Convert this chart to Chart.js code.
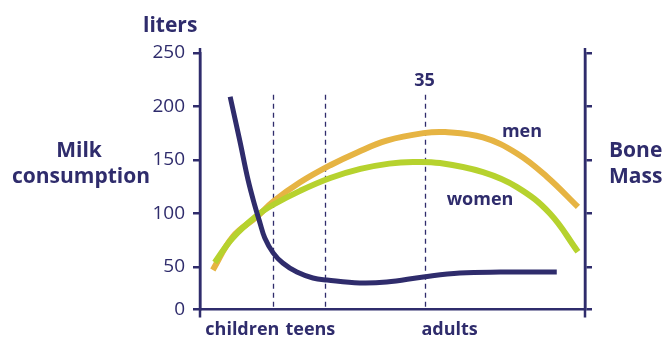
<!DOCTYPE html>
<html>
<head>
<meta charset="utf-8">
<script src="https://cdn.jsdelivr.net/npm/chart.js@4.4.1/dist/chart.umd.min.js"></script>
<style>
  html, body { margin: 0; padding: 0; background: #fff; }
  canvas { display: block; }
</style>
</head>
<body>
<canvas id="lifeChart" width="662" height="338"></canvas>
<script>
// ── Data ───────────────────────────────────────────────────────────────────────

const stages     = ['children', 'teens', 'adults'];
const stageAges  = [6.6, 17.2, 38.9];
const dividers   = [11.4, 19.5, 35];
const yTickVals  = [10, 50, 100, 150, 200, 250];   // 10 sits on the x axis, shown as 0
const yTickText  = ['0', '50', '100', '150', '200', '250'];

const milkAges   = [4.7, 6.2, 7.5, 8.6, 9.35, 10.1, 11.4, 12.9, 15.1, 17.6, 19.8, 24.9, 29.1, 34.8, 40.5, 46.8, 55.6];
const milkLiters = [209, 168, 131, 106, 91, 77, 63, 53.5, 45, 39.5, 37.6, 34.8, 35.7, 40.4, 44.1, 45, 45];

const menAges    = [2.0, 5.1, 8.9, 11.4, 15.6, 20.3, 24.5, 29.1, 34.8, 38.2, 44.1, 49.4, 54.1, 58.9];
const menMass    = [47, 78, 97, 111, 129, 145, 157, 168, 175, 176, 171, 156, 134, 106];

const womenAges  = [2.3, 5.1, 8.9, 11.4, 15.6, 20.3, 25, 29.5, 33.2, 37.4, 44.1, 49.4, 54.5, 58.9];
const womenMass  = [54, 77, 98, 108, 121, 133, 141.5, 146.5, 148, 147, 138.5, 124.5, 100, 64];

const NAVY   = '#2f2c6c';
const ORANGE = '#e6b443';
const GREEN  = '#b6d22e';
const FONT   = '"Open Sans", "DejaVu Sans", sans-serif';

const pts = (xs, ys) => xs.map((x, i) => ({ x, y: ys[i] }));

// ── Overlay: dashed stage lines, titles, series names ─────────────────────────

const overlay = {
  id: 'overlay',
  beforeDatasetsDraw(chart) {
    const { ctx, chartArea, scales } = chart;
    ctx.save();
    ctx.strokeStyle = NAVY;
    ctx.lineWidth = 1.3;
    ctx.setLineDash([5, 4]);
    dividers.forEach(a => {
      const x = Math.round(scales.x.getPixelForValue(a)) + 0.5;
      ctx.beginPath();
      ctx.moveTo(x, scales.y.getPixelForValue(211));
      ctx.lineTo(x, chartArea.bottom);
      ctx.stroke();
    });
    ctx.restore();
  },
  afterDraw(chart) {
    const { ctx, chartArea, scales } = chart;
    ctx.save();
    // axis line overhangs
    ctx.strokeStyle = NAVY;
    ctx.lineWidth = 2.5;
    [chartArea.left, chartArea.right].forEach(x => {
      ctx.beginPath();
      ctx.moveTo(x, chartArea.top - 5);
      ctx.lineTo(x, chartArea.bottom + 8);
      ctx.stroke();
    });

    ctx.fillStyle = NAVY;
    ctx.font = `bold 21px ${FONT}`;
    ctx.textBaseline = 'alphabetic';
    ctx.textAlign = 'left';
    ctx.fillText('liters', 143, 32);

    ctx.textAlign = 'center';
    ctx.fillText('Milk', 79, 157);
    ctx.fillText('consumption', 81, 183);

    ctx.textAlign = 'left';
    ctx.fillText('Bone', 609, 157);
    ctx.fillText('Mass', 609, 183);

    ctx.font = `bold 18px ${FONT}`;
    ctx.textAlign = 'center';
    ctx.fillText('35', scales.x.getPixelForValue(35), 86);
    ctx.fillText('men', 522, 137);
    ctx.fillText('women', 480, 205);
    ctx.restore();
  }
};

// ── Chart ──────────────────────────────────────────────────────────────────────

new Chart(document.getElementById('lifeChart').getContext('2d'), {
  type: 'line',
  data: {
    datasets: [
      { label: 'Milk consumption', data: pts(milkAges, milkLiters), yAxisID: 'y',
        borderColor: NAVY, borderWidth: 5 },
      { label: 'women', data: pts(womenAges, womenMass), yAxisID: 'y2',
        borderColor: GREEN, borderWidth: 6 },
      { label: 'men', data: pts(menAges, menMass), yAxisID: 'y2',
        borderColor: ORANGE, borderWidth: 6 }
    ]
  },
  options: {
    responsive: false,
    animation: false,
    layout: { padding: { top: 53, left: 0, right: 0, bottom: 0 } },
    elements: {
      point: { radius: 0 },
      line: { tension: 0.4, borderCapStyle: 'butt', borderJoinStyle: 'round', fill: false }
    },
    plugins: { legend: { display: false }, tooltip: { enabled: false } },
    scales: {
      x: {
        type: 'linear', min: 0, max: 60,
        afterFit: s => { s.height = 28.5; },
        afterBuildTicks: s => { s.ticks = stageAges.map(v => ({ value: v })); },
        grid: { display: false },
        border: { color: NAVY, width: 2.5 },
        ticks: {
          autoSkip: false, maxRotation: 0, padding: 2,
          color: NAVY, font: { family: FONT, size: 18, weight: 'bold' },
          callback: (v, i) => stages[i]
        }
      },
      y: {
        position: 'left', min: 10, max: 250,
        afterFit: s => { s.width = 200; },
        afterBuildTicks: s => { s.ticks = yTickVals.map(v => ({ value: v })); },
        grid: { drawOnChartArea: false, color: NAVY, lineWidth: 2.5, tickLength: 7 },
        border: { color: NAVY, width: 2.5 },
        ticks: {
          padding: 8, color: NAVY, font: { family: FONT, size: 19 },
          callback: (v, i) => yTickText[i]
        }
      },
      y2: {
        position: 'right', min: 10, max: 250,
        afterFit: s => { s.width = 77; },
        afterBuildTicks: s => { s.ticks = yTickVals.map(v => ({ value: v })); },
        grid: { drawOnChartArea: false, color: NAVY, lineWidth: 2.5, tickLength: 7 },
        border: { color: NAVY, width: 2.5 },
        ticks: { color: 'rgba(0,0,0,0)', padding: 0, callback: () => '' }
      }
    }
  },
  plugins: [overlay]
});
</script>
</body>
</html>
